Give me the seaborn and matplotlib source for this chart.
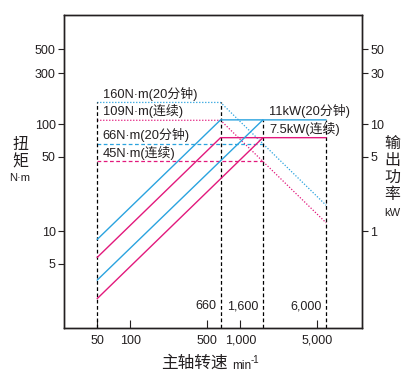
import matplotlib
matplotlib.use("Agg")
import matplotlib.pyplot as plt
import seaborn as sns
from matplotlib.ticker import FixedLocator, FixedFormatter

# spindle speed (min^-1) at the corner points
speed_20min = [50, 660, 6000]
speed_cont = [50, 1600]
# torque curves, N*m
torque_160 = [160, 160, 17.5]
torque_109 = [109, 109, 12.0]
torque_66 = [66, 66]
torque_45 = [45, 45]
# power curves, kW
power_11_a = [0.84, 11, 11]
power_75_a = [0.57, 7.5, 7.5]
power_11_b = [0.35, 11]
power_75_b = [0.235, 7.5]

# vertical guide lines
guide_speed = [50, 660, 1600, 6000]
guide_top = [160, 160, 110, 110]
guide_labels = ["", "660", "1,600", "6,000"]

left_ticks = [5, 10, 50, 100, 300, 500]
right_ticks = [1, 5, 10, 30, 50]
x_ticks = [50, 100, 500, 1000, 5000]
x_ticklabels = ["50", "100", "500", "1,000", "5,000"]

blue = "#2aa3df"
pink = "#e2197c"
ink = "#231f20"
cjk = ["Noto Sans CJK SC", "DejaVu Sans"]

sns.set_theme(style="ticks")
plt.rcParams["font.family"] = ["Liberation Sans", "Noto Sans CJK SC", "DejaVu Sans"]

fig = plt.figure(figsize=(4.11, 3.81), dpi=100)
ax = fig.add_axes([64 / 411, 1 - 328 / 381, 298 / 411, 313 / 381])
ax.set_xscale("log")
ax.set_yscale("log")
ax.set_xlim(25, 12700)
ax.set_ylim(1.25, 1050)

ax2 = ax.twinx()
ax2.set_yscale("log")
ax2.set_ylim(0.125, 105)

dot = (0, (1, 1.4))
dash = (0, (3, 2))
sns.lineplot(x=speed_20min, y=torque_160, ax=ax, color=blue, lw=0.9, linestyle=dot)
sns.lineplot(x=speed_20min, y=torque_109, ax=ax, color=pink, lw=0.9, linestyle=dot)
sns.lineplot(x=speed_cont, y=torque_66, ax=ax, color=blue, lw=0.9, linestyle=dash)
sns.lineplot(x=speed_cont, y=torque_45, ax=ax, color=pink, lw=0.9, linestyle=dash)

sns.lineplot(x=speed_20min, y=power_11_a, ax=ax2, color=blue, lw=1.0)
sns.lineplot(x=speed_20min, y=power_75_a, ax=ax2, color=pink, lw=1.0)
sns.lineplot(x=speed_cont, y=power_11_b, ax=ax2, color=blue, lw=1.0)
sns.lineplot(x=speed_cont, y=power_75_b, ax=ax2, color=pink, lw=1.0)

ax.vlines(guide_speed, 1.25, guide_top, colors="black", lw=0.9, linestyles=dash)
for s, lab in zip(guide_speed, guide_labels):
    if lab:
        ax.annotate(lab, (s, 2.0), xytext=(-3, 0), textcoords="offset points",
                    ha="right", va="center", fontsize=9, color=ink)

fs = 9.3
ax.text(56, 160 * 1.04, "160N·m(20分钟)", fontsize=fs, color=ink, va="bottom")
ax.text(56, 109 * 1.04, "109N·m(连续)", fontsize=fs, color=ink, va="bottom")
ax.text(56, 66 * 1.04, "66N·m(20分钟)", fontsize=fs, color=ink, va="bottom")
ax.text(56, 45 * 1.04, "45N·m(连续)", fontsize=fs, color=ink, va="bottom")
ax2.text(1830, 11 * 1.04, "11kW(20分钟)", fontsize=fs, color=ink, va="bottom")
ax2.text(1830, 7.5 * 1.04, "7.5kW(连续)", fontsize=fs, color=ink, va="bottom")

ax.minorticks_off()
ax2.minorticks_off()
ax.xaxis.set_major_locator(FixedLocator(x_ticks))
ax.xaxis.set_major_formatter(FixedFormatter(x_ticklabels))
ax.yaxis.set_major_locator(FixedLocator(left_ticks))
ax.yaxis.set_major_formatter(FixedFormatter([str(t) for t in left_ticks]))
ax2.yaxis.set_major_locator(FixedLocator(right_ticks))
ax2.yaxis.set_major_formatter(FixedFormatter([str(t) for t in right_ticks]))
ax.tick_params(axis="x", direction="in", length=5.5, width=0.8, labelsize=9,
               colors=ink, pad=5)
ax.tick_params(axis="y", direction="out", length=4, width=0.8, labelsize=9,
               colors=ink, pad=2)
ax2.tick_params(axis="y", direction="out", length=4, width=0.8, labelsize=9,
                colors=ink, pad=2)
for a in (ax, ax2):
    for sp in a.spines.values():
        sp.set_color(ink)
        sp.set_linewidth(1.0)
ax.set_xlabel("")
ax.set_ylabel("")
ax2.set_ylabel("")

fig.text(20 / 411, 1 - 153 / 381, "扭\n矩", fontsize=11.5, color=ink, family=cjk,
         ha="center", va="center", linespacing=1.0)
fig.text(20 / 411, 1 - 178 / 381, "N·m", fontsize=8, color=ink, ha="center", va="center")
fig.text(392 / 411, 1 - 169 / 381, "输\n出\n功\n率", fontsize=11.5, color=ink, family=cjk,
         ha="center", va="center", linespacing=1.0)
fig.text(392 / 411, 1 - 213 / 381, "kW", fontsize=8, color=ink, ha="center", va="center")
fig.text(228 / 411, 1 - 363 / 381, "主轴转速", fontsize=12, color=ink, family=cjk,
         ha="right", va="center")
fig.text(232 / 411, 1 - 366 / 381, "min", fontsize=8.5, color=ink, ha="left", va="center")
fig.text(251 / 411, 1 - 360 / 381, "-1", fontsize=7, color=ink, ha="left", va="center")

fig.savefig("out.png", dpi=100)
